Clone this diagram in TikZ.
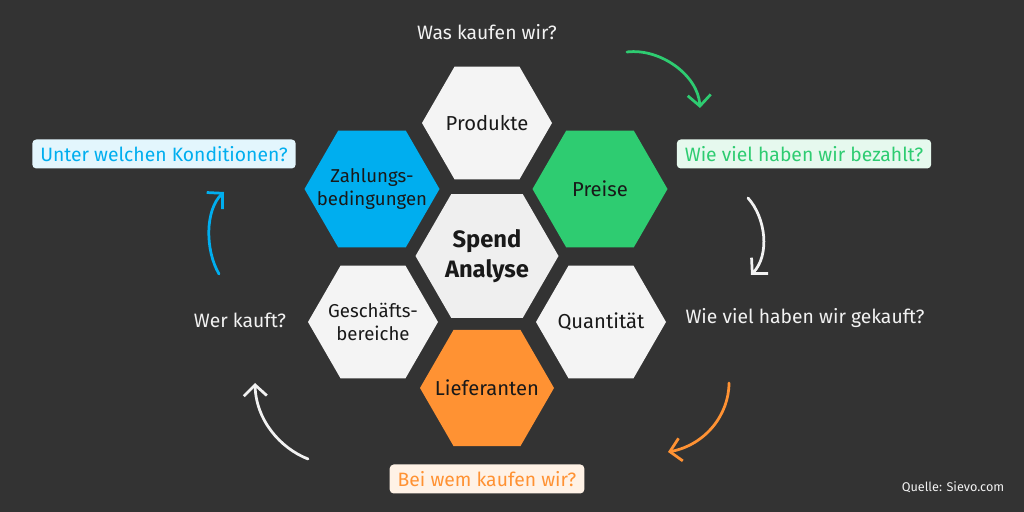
\documentclass[tikz,border=0pt]{standalone}
\usepackage{fontspec}
\setmainfont{Fira Sans}
\usetikzlibrary{arrows.meta}

\definecolor{bgdark}{HTML}{333333}
\definecolor{hexgrey}{HTML}{F4F4F4}
\definecolor{hexmid}{HTML}{EFEFEF}
\definecolor{hexblue}{HTML}{00AEEF}
\definecolor{hexgreen}{HTML}{2ECC71}
\definecolor{hexorange}{HTML}{FF9233}
\definecolor{paleblue}{HTML}{E3F6FD}
\definecolor{palegreen}{HTML}{E6F9EE}
\definecolor{paleorange}{HTML}{FFF2E6}
\definecolor{qwhite}{HTML}{F2F2F2}

\tikzset{
    hexlabel/.style={align=center, text=black!90, font=\fontsize{11.5}{13.6}\selectfont},
    twoline/.style={hexlabel, font=\fontsize{10.6}{13.6}\selectfont},
    question/.style={text=qwhite, font=\fontsize{11}{13}\selectfont},
    qbox/.style={rounded corners=0.8mm, minimum height=5.8mm, inner xsep=1.6mm,
        font=\fontsize{11}{13}\selectfont},
    turn/.style={line width=0.55mm, line cap=round,
        -{Straight Barb[length=2.2mm, width=4.6mm, line width=0.55mm]}}
}

\begin{document}
\begin{tikzpicture}[x=0.2mm, y=-0.2mm]
        %    \draw [help lines] (0,0) grid (1024,512);
        \fill [bgdark] (0,0) rectangle (1024,512);

        % honeycomb
        \foreach \cx/\cy/\r/\col in {487/123/65/hexgrey, 372/189/67.5/hexblue, 600/189/67.5/hexgreen,
                487/256/71.5/hexmid, 373/322/65/hexgrey, 601/322/65/hexgrey, 487/388/67/hexorange}
        {
            \fill [\col] (\cx,\cy) +(0:\r) -- +(60:\r) -- +(120:\r) -- +(180:\r)
                -- +(240:\r) -- +(300:\r) -- cycle;
        }

        \path node (prod) [hexlabel] at (487,123) {Produkte};
        \path node (zahl) [twoline] at (372,189) {Zahlungs-\\bedingungen};
        \path node (preis) [hexlabel] at (600,189) {Preise};
        \path node (spend) [hexlabel, font=\fontsize{13.5}{17}\selectfont\bfseries] at (487,256) {Spend\\Analyse};
        \path node (gesch) [twoline] at (373,322) {Geschäfts-\\bereiche};
        \path node (quant) [hexlabel] at (601,322) {Quantität};
        \path node (lief) [hexlabel] at (487,388) {Lieferanten};

        % questions
        \path node (was) [question] at (487,32) {Was kaufen wir?};
        \path node (bezahlt) [qbox, fill=palegreen, text=hexgreen] at (804,154) {Wie viel haben wir bezahlt?};
        \path node (gekauft) [question] at (805,318) {Wie viel haben wir gekauft?};
        \path node (beiwem) [qbox, fill=paleorange, text=hexorange] at (487,479) {Bei wem kaufen wir?};
        \path node (wer) [question] at (240,320) {Wer kauft?};
        \path node (unter) [qbox, fill=paleblue, text=hexblue] at (164,154) {Unter welchen Konditionen?};
        \path node (quelle) [text=qwhite, font=\fontsize{7.2}{9}\selectfont] at (953,487) {Quelle: Sievo.com};

        % arrows round the circle
        \coordinate (g1) at (627,52);
        \coordinate (g2) at (700,108);
        \coordinate (w1) at (748,198);
        \coordinate (w2) at (751,275);
        \coordinate (o1) at (729,383);
        \coordinate (o2) at (668,452);
        \coordinate (l1) at (308,459);
        \coordinate (l2) at (255,383);
        \coordinate (b1) at (219,274);
        \coordinate (b2) at (224,192);

        \draw[turn, hexgreen] (g1) .. controls (660,48) and (698,75) .. (g2);
        \draw[turn, qwhite] (w1) .. controls (766,218) and (770,255) .. (w2);
        \draw[turn, hexorange] (o1) .. controls (729,415) and (705,445) .. (o2);
        \draw[turn, qwhite] (l1) .. controls (280,448) and (256,420) .. (l2);
        \draw[turn, hexblue] (b1) .. controls (205,250) and (205,210) .. (b2);

    \end{tikzpicture}
\end{document}
